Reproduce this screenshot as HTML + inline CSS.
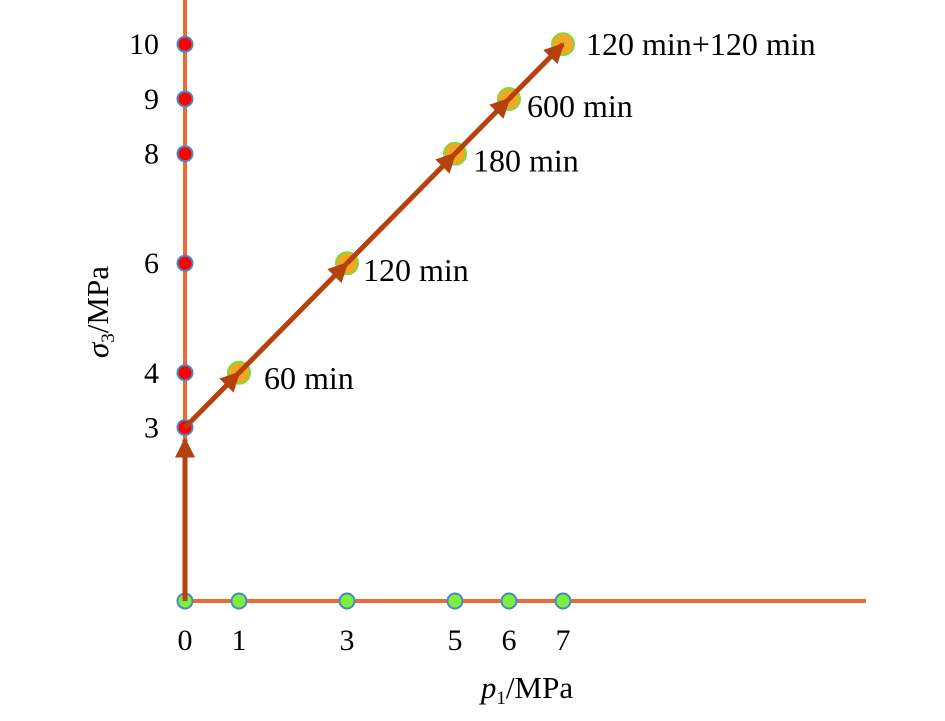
<!DOCTYPE html>
<html><head><meta charset="utf-8"><style>
html,body{margin:0;padding:0;background:#fff}
svg text{font-family:"Liberation Serif",serif;fill:#000}
</style></head><body>
<svg id="chart" width="945" height="716" viewBox="0 0 945 716">
<defs>
<marker id="arr" viewBox="0 0 10 10" refX="9" refY="5" markerWidth="4" markerHeight="4" orient="auto" markerUnits="strokeWidth">
<path d="M0,0 L10,5 L0,10 z" fill="#b5410f"/></marker>
</defs>
<line x1="185" y1="0" x2="185" y2="601" stroke="#ec6a35" stroke-width="4"/>
<line x1="185" y1="601" x2="866" y2="601" stroke="#ec6a35" stroke-width="4"/>
<g id="marks"></g>
<text x="527" y="698" font-size="31" text-anchor="middle"><tspan font-style="italic">p</tspan><tspan font-size="19" dy="6">1</tspan><tspan dy="-6">/MPa</tspan></text>
<text transform="translate(108,312) rotate(-90)" font-size="31" text-anchor="middle"><tspan font-style="italic">σ</tspan><tspan font-size="19" dy="6">3</tspan><tspan dy="-6">/MPa</tspan></text>
</svg>
<script>
const xTicks=[0,1,3,5,6,7];
const yTicks=[3,4,6,8,9,10];
const pathP=[0,1,3,5,6,7];
const pathS=[3,4,6,8,9,10];
const labels=["","60 min","120 min","180 min","600 min","120 min+120 min"];
const xs=v=>185+v*54;
const ys=v=>591.8-v*54.76;
const NS="http://www.w3.org/2000/svg";
const g=document.getElementById('marks');
function mk(t,a){const e=document.createElementNS(NS,t);for(const k in a)e.setAttribute(k,a[k]);g.appendChild(e);return e;}
xTicks.forEach(v=>{
 const c=mk('circle',{cx:xs(v),cy:601,r:7.5,fill:'#7cf03a',stroke:'#4a86c8','stroke-width':2});
 
 
 const t=mk('text',{x:xs(v),y:650,'font-size':30,'text-anchor':'middle'});t.textContent=v;
 
 
});
yTicks.forEach(v=>{
 const c=mk('circle',{cx:185,cy:ys(v),r:7.5,fill:'#f00',stroke:'#4a86c8','stroke-width':2});
 
 
 const t=mk('text',{x:159,y:ys(v)+10,'font-size':30,'text-anchor':'end'});t.textContent=v;
 
 
});
pathP.forEach((p,i)=>{if(i===0)return;
 const c=mk('circle',{cx:xs(p),cy:ys(pathS[i]),r:11,fill:'#f5a623',stroke:'#7cdc3a','stroke-width':2});
 
 
});
const a0=mk('line',{x1:185,y1:601,x2:185,y2:ys(3)+12,stroke:'#b5410f','stroke-width':5,'marker-end':'url(#arr)'});


for(let i=1;i<pathP.length;i++){
 const l=mk('line',{x1:xs(pathP[i-1]),y1:ys(pathS[i-1]),x2:xs(pathP[i]),y2:ys(pathS[i]),stroke:'#b5410f','stroke-width':5,'marker-end':'url(#arr)'});
 
 
}
const off=[[0,0],[25,16],[16,18],[18,18],[18,18],[23,11]];
pathP.forEach((p,i)=>{if(!labels[i])return;
 const t=mk('text',{x:xs(p)+off[i][0],y:ys(pathS[i])+off[i][1],'font-size':32});t.textContent=labels[i];
 
 
});
</script>
</body></html>
